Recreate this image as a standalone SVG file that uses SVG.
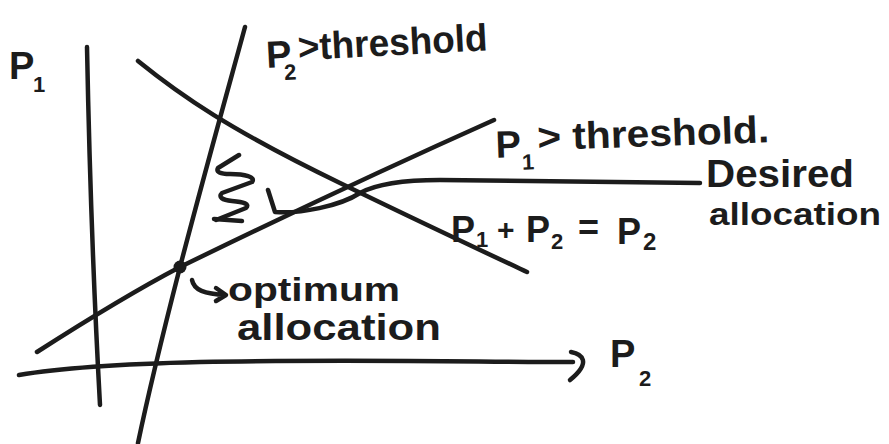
<svg xmlns="http://www.w3.org/2000/svg" width="889" height="444" viewBox="0 0 889 444">
<style>
.ln{fill:none;stroke:#1c1c1c;stroke-width:4.5;stroke-linecap:round;stroke-linejoin:round}
.t{font-family:"Liberation Sans","DejaVu Sans",sans-serif;fill:#1c1c1c;font-weight:bold}
.s{font-size:22px}
</style>
<rect width="889" height="444" fill="#ffffff"/>
<g id="connectors">
  <path class="ln" d="M87,47 C89,150 92,260 100,405"/>
  <path class="ln" d="M19,375 C60,368 120,364 200,362 C350,359 480,362 573,362"/>
  <path class="ln" d="M571,352 C582,354 592,362 570,380"/>
  <path class="ln" d="M245,27 C232,75 208,160 180,267 C160,345 148,395 138,443"/>
  <path class="ln" d="M37,352 C90,318 140,288 180,267 C260,228 400,162 494,120"/>
  <path class="ln" d="M138,61 C180,95 230,130 340,183 C420,222 480,250 527,272"/>
  <path class="ln" d="M268,190 L275,212 C300,214 340,206 360,193 C380,182 410,180 440,180 C540,181 620,182 700,183"/>
  <path class="ln" d="M239,155 L218,168 C216,172 220,174 230,174 C245,174 256,177 252,182 L222,193 C218,197 222,200 232,201 C244,202 250,204 246,208 L216,220"/>
  <path class="ln" d="M214,219 L242,221" stroke-width="6"/>
  <circle cx="180" cy="267" r="6.5" fill="#1c1c1c"/>
  <path class="ln" d="M192,280 C194,290 204,294 226,295 M216,288 L226,295 L216,301"/>
</g>
<g id="axis-p1">
  <text class="t" x="9" y="79" font-size="38">P<tspan class="s" x="33" y="92">1</tspan></text>
</g>
<g id="axis-p2">
  <text class="t" x="610" y="367" font-size="38">P<tspan class="s" x="639" y="386">2</tspan></text>
</g>
<g id="label-p2-threshold" transform="rotate(-3 380 50)">
  <text class="t" x="266" y="62" font-size="38">P<tspan class="s" x="283" y="75">2</tspan><tspan x="298" y="56" font-size="38" textLength="190" lengthAdjust="spacingAndGlyphs">&gt;threshold</tspan></text>
</g>
<g id="label-p1-threshold" transform="rotate(-2 630 130)">
  <text class="t" x="495" y="153" font-size="38">P<tspan class="s" x="521" y="166">1</tspan><tspan x="537" y="147" textLength="232" lengthAdjust="spacingAndGlyphs">&gt; threshold.</tspan></text>
</g>
<g id="label-sum">
  <text class="t" x="451" y="242" font-size="36">P<tspan class="s" x="476" y="247">1</tspan><tspan x="497" y="240" font-size="30">+</tspan><tspan x="526" y="242">P</tspan><tspan class="s" x="551" y="249">2</tspan><tspan x="578" y="240">=</tspan><tspan x="617" y="244">P</tspan><tspan x="643" y="250" font-size="24">2</tspan></text>
</g>
<g id="label-desired">
  <text class="t" x="706" y="187" font-size="38" textLength="148" lengthAdjust="spacingAndGlyphs">Desired</text>
  <text class="t" x="709" y="225" font-size="32" textLength="172" lengthAdjust="spacingAndGlyphs">allocation</text>
</g>
<g id="label-optimum">
  <text class="t" x="228" y="301" font-size="33" textLength="172" lengthAdjust="spacingAndGlyphs">optimum</text>
  <text class="t" x="237" y="340" font-size="36" textLength="204" lengthAdjust="spacingAndGlyphs">allocation</text>
</g>
</svg>
